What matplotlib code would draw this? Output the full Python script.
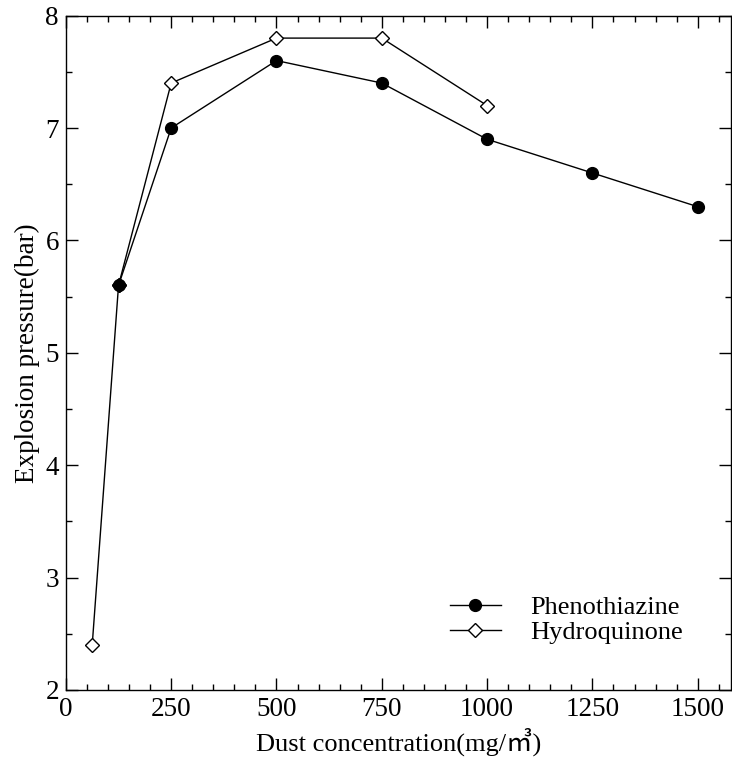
import matplotlib.pyplot as plt
from matplotlib.ticker import MultipleLocator

# dust concentration, mg/m3
pheno_x = [125, 250, 500, 750, 1000, 1250, 1500]
pheno_p = [5.6, 7.0, 7.6, 7.4, 6.9, 6.6, 6.3]

hydro_x = [62.5, 125, 250, 500, 750, 1000]
hydro_p = [2.4, 5.6, 7.4, 7.8, 7.8, 7.2]

plt.rcParams["font.family"] = ["Liberation Serif", "Noto Sans CJK SC"]

fig = plt.figure(figsize=(7.32, 7.62), dpi=100)
ax = fig.add_axes([0.090, 0.0945, 0.908, 0.885])

ax.plot(pheno_x, pheno_p, color="black", lw=1, marker="o", ms=8.5,
        mfc="black", mec="black", label="Phenothiazine", zorder=3)
ax.plot(hydro_x, hydro_p, color="black", lw=1, marker="D", ms=7.5,
        mfc="white", mec="black", mew=1, label="Hydroquinone", zorder=4)

# where both series share a point the original shows a solid diamond
shared = [(x, p) for x, p in zip(hydro_x, hydro_p)
          if x in pheno_x and pheno_p[pheno_x.index(x)] == p]
if shared:
    sx, sp = zip(*shared)
    ax.plot(sx, sp, ls="none", marker="D", ms=7.5, mfc="black", mec="black", zorder=5)

ax.set_xlim(0, 1578)
ax.set_ylim(2, 8)
ax.xaxis.set_major_locator(MultipleLocator(250))
ax.xaxis.set_minor_locator(MultipleLocator(50))
ax.yaxis.set_major_locator(MultipleLocator(1))
ax.yaxis.set_minor_locator(MultipleLocator(0.5))
ax.tick_params(which="both", direction="in", top=True, right=True, width=1)
ax.tick_params(which="major", length=8.5, labelsize=19.5, pad=5)
ax.tick_params(which="minor", length=4.3)
for s in ax.spines.values():
    s.set_linewidth(1)

ax.set_xlabel("Dust concentration(mg/㎥)", fontsize=19, labelpad=4)
ax.set_ylabel("Explosion pressure(bar)", fontsize=19.5, labelpad=4)

ax.legend(loc="lower right", bbox_to_anchor=(0.964, 0.033), frameon=False,
          fontsize=19, handlelength=1.95, handletextpad=1.1, labelspacing=0.05)

fig.savefig("out.png", dpi=100)
